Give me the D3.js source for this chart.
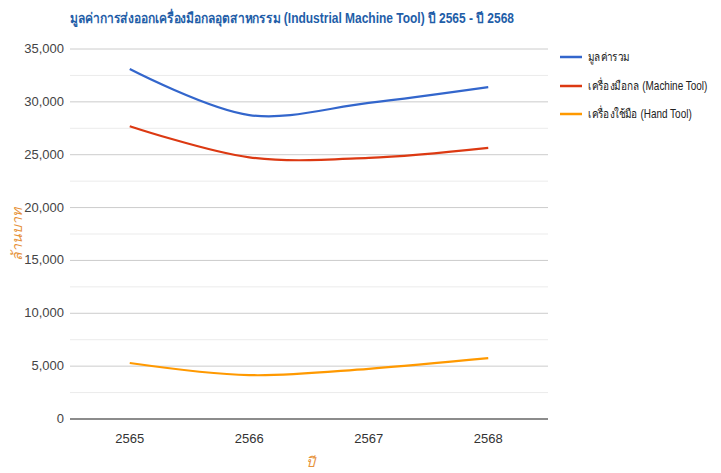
<!DOCTYPE html>
<html>
<head>
<meta charset="utf-8">
<script src="https://cdn.jsdelivr.net/npm/d3@7"></script>
<style>
  body { margin: 0; background: #fff; }
  text { font-family: "Liberation Sans", Arial, sans-serif; }
</style>
</head>
<body>
<svg id="chart" width="721" height="473"></svg>
<script>
// chart data (million baht)
const years = ['2565', '2566', '2567', '2568'];
const seriesNames = ['มูลค่ารวม', 'เครื่องมือกล (Machine Tool)', 'เครื่องใช้มือ (Hand Tool)'];
const totalValues = [33100, 28750, 29900, 31400];
const machineValues = [27700, 24750, 24700, 25650];
const handValues = [5300, 4150, 4750, 5750];
const yTicks = [0, 5000, 10000, 15000, 20000, 25000, 30000, 35000];
const titleText = 'มูลค่าการส่งออกเครื่องมือกลอุตสาหกรรม (Industrial Machine Tool) ปี 2565 - ปี 2568';

const colors = ['#3366cc', '#dc3912', '#ff9900'];

const margin = {top: 49, left: 70, right: 173, bottom: 54};
const width = 721, height = 473;

const svg = d3.select('#chart');

const x = d3.scalePoint().domain(years)
  .range([margin.left, width - margin.right]).padding(0.5);
const y = d3.scaleLinear().domain([0, 35000])
  .range([height - margin.bottom, margin.top]);

// gridlines: minor every 2500, major every 5000
const minor = d3.range(2500, 35000, 5000);
svg.append('g').selectAll('line').data(minor).enter().append('line')
  .attr('x1', margin.left).attr('x2', width - margin.right)
  .attr('y1', d => y(d)).attr('y2', d => y(d))
  .attr('stroke', '#ebebeb').attr('stroke-width', 1);

svg.append('g').selectAll('line').data(yTicks.slice(1)).enter().append('line')
  .attr('x1', margin.left).attr('x2', width - margin.right)
  .attr('y1', d => y(d)).attr('y2', d => y(d))
  .attr('stroke', '#cccccc').attr('stroke-width', 1);

// y axis labels
const fmt = d3.format(',');
svg.append('g').selectAll('text').data(yTicks).enter().append('text')
  .attr('x', margin.left - 6).attr('y', d => y(d) + 4)
  .attr('text-anchor', 'end').attr('font-size', 13).attr('fill', '#444')
  .text(d => fmt(d));

// baseline
svg.append('line')
  .attr('x1', margin.left).attr('x2', width - margin.right)
  .attr('y1', y(0)).attr('y2', y(0))
  .attr('stroke', '#666').attr('stroke-width', 1.5);

// x axis labels
svg.append('g').selectAll('text').data(years).enter().append('text')
  .attr('x', d => x(d)).attr('y', y(0) + 24)
  .attr('text-anchor', 'middle').attr('font-size', 13).attr('fill', '#333')
  .text(d => d);

// lines
const allSeries = [totalValues, machineValues, handValues];
const lineGen = d3.line()
  .x((d, i) => x(years[i]))
  .y(d => y(d))
  .curve(d3.curveCatmullRom.alpha(0.5));

svg.append('g').selectAll('path').data(allSeries).enter().append('path')
  .attr('d', d => lineGen(d))
  .attr('fill', 'none')
  .attr('stroke', (d, i) => colors[i])
  .attr('stroke-width', 2.2);

// title
svg.append('text')
  .attr('x', 70).attr('y', 23)
  .attr('font-size', 14).attr('font-weight', 'bold').attr('fill', '#1f5ea8')
  .attr('textLength', 444).attr('lengthAdjust', 'spacingAndGlyphs')
  .text(titleText);

// axis titles
svg.append('text')
  .attr('transform', `translate(22, ${(y(0) + y(35000)) / 2}) rotate(-90)`)
  .attr('text-anchor', 'middle').attr('font-size', 14)
  .attr('font-style', 'italic').attr('fill', '#e69138')
  .text('ล้านบาท');

svg.append('text')
  .attr('x', 310).attr('y', 467)
  .attr('text-anchor', 'middle').attr('font-size', 14)
  .attr('font-style', 'italic').attr('fill', '#e69138')
  .text('ปี');

// legend (text squeezed horizontally like the condensed original)
const legend = svg.append('g').attr('transform', 'translate(560, 57)');
const items = legend.selectAll('g').data(seriesNames).enter().append('g')
  .attr('transform', (d, i) => `translate(0, ${[0, 29, 57][i]})`);
items.append('line')
  .attr('x1', 0).attr('x2', 22).attr('y1', 0).attr('y2', 0)
  .attr('stroke', (d, i) => colors[i]).attr('stroke-width', 2.5);
items.append('text')
  .attr('transform', 'translate(28, 4) scale(0.83, 1)')
  .attr('font-size', 12).attr('fill', '#222')
  .text(d => d);
</script>
</body>
</html>
